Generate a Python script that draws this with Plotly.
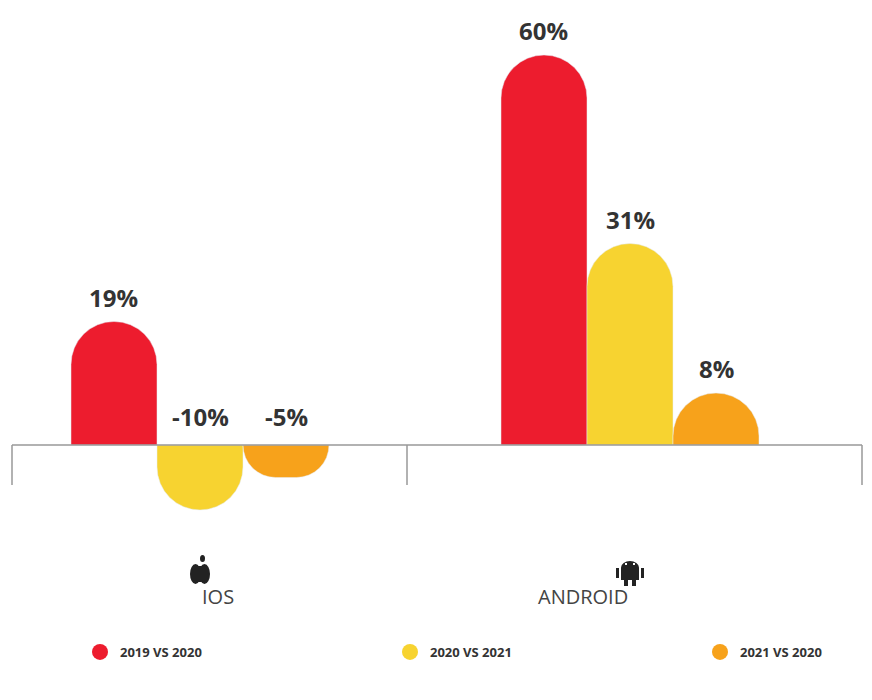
import plotly.graph_objects as go

platforms = ["IOS", "ANDROID"]
series = ["2019 VS 2020", "2020 VS 2021", "2021 VS 2020"]
values = [[19, 60], [-10, 31], [-5, 8]]
colors = ["#ED1C2E", "#F7D330", "#F7A21B"]

W, H = 872, 700
OFF = 8  # browser body margin
fig = go.Figure()
legend_x = [80, 390, 700]
for k, (s, v, c) in enumerate(zip(series, values, colors)):
    lg = "legend" if k == 0 else f"legend{k+1}"
    fig.add_trace(go.Bar(x=platforms, y=v, name=s, marker=dict(color=c, cornerradius="50%"),
                         showlegend=False, hoverinfo="skip"))
    fig.add_trace(go.Scatter(x=[None], y=[None], mode="markers", name=f"<b>{s}</b>", legend=lg,
                             marker=dict(color=c, size=20, symbol="circle")))

def P(x, y):
    return (x - OFF) / W, 1 - (y - OFF) / H

ann = []
for i, (s, v) in enumerate(zip(series, values)):
    for j, val in enumerate(v):
        ann.append(dict(x=platforms[j], y=max(val, 0), text=f"<b>{val}%</b>", showarrow=False,
                        xshift=(i - 1) * 86.5, yanchor="bottom", yshift=6 if val > 0 else 10,
                        font=dict(size=24, color="#333", family="Open Sans")))
for name, px in [("IOS", 200), ("ANDROID", 630)]:
    a, b = P(px, 612)
    ann.append(dict(xref="paper", yref="paper", x=a, y=b, text=name, showarrow=False,
                    font=dict(size=20, color="#444", family="Open Sans")))
fig.update_layout(annotations=ann)

def rect(x0, y0, x1, y1, col="#222", kind="rect"):
    a, b = P(x0, y0); c, d = P(x1, y1)
    fig.add_shape(type=kind, xref="paper", yref="paper", x0=a, y0=d, x1=c, y1=b,
                  fillcolor=col, line_width=0)

g = "#999"
for (x0, y0, x1, y1) in [(12, 445, 862, 445), (12, 445, 12, 485), (407, 445, 407, 485), (862, 445, 862, 485)]:
    a, b = P(x0, y0); c, d = P(x1, y1)
    fig.add_shape(type="line", xref="paper", yref="paper", x0=a, y0=b, x1=c, y1=d,
                  line=dict(color=g, width=1.5))

# apple icon
rect(190, 564, 201, 584, kind="circle")
rect(199, 564, 210, 584, kind="circle")
rect(193, 566, 207, 582)
rect(200, 555, 205, 562, kind="circle")
# android icon
rect(621, 561, 639, 574, kind="circle")
rect(621, 568, 639, 580)
rect(616, 568, 619, 578)
rect(641, 568, 644, 578)
rect(624, 580, 628, 586)
rect(632, 580, 636, 586)
rect(625, 563, 627, 565, col="white")
rect(633, 563, 635, 565, col="white")

legs = {}
for k, lx in enumerate(legend_x):
    a, b = P(lx, 652)
    legs["legend" if k == 0 else f"legend{k+1}"] = dict(
        x=a, y=b, xanchor="left", yanchor="middle", orientation="h",
        font=dict(size=13, color="#333", family="Open Sans"), bgcolor="rgba(0,0,0,0)")

fig.update_layout(
    width=W, height=H, margin=dict(l=0, r=0, t=0, b=0),
    plot_bgcolor="white", paper_bgcolor="white",
    barmode="group", bargap=0.4, bargroupgap=0,
    xaxis=dict(range=[-(200 - OFF) / 430, -(200 - OFF) / 430 + W / 430], visible=False),
    yaxis=dict(range=[(445 - OFF) / 6.5 - H / 6.5, (445 - OFF) / 6.5], visible=False),
    font=dict(family="Open Sans"),
    **legs,
)
fig.write_html("out.html")
